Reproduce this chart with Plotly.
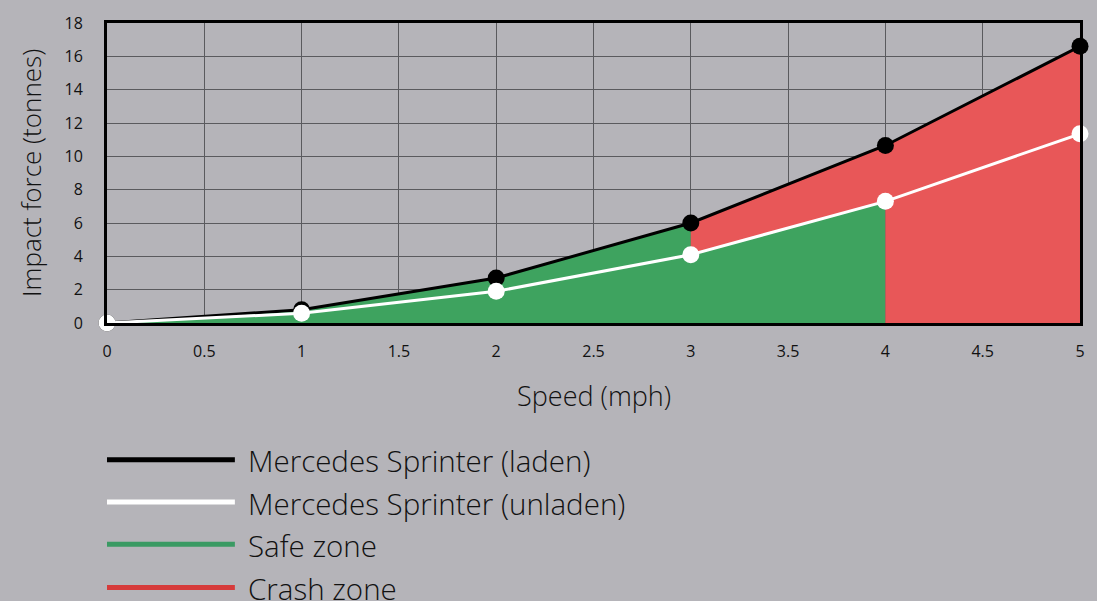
import plotly.graph_objects as go

speed = [0, 1, 2, 3, 4, 5]
laden = [0, 0.8, 2.7, 6.0, 10.65, 16.6]
unladen = [0, 0.58, 1.9, 4.1, 7.3, 11.35]
x_ticks = [0, 0.5, 1, 1.5, 2, 2.5, 3, 3.5, 4, 4.5, 5]
y_ticks = [0, 2, 4, 6, 8, 10, 12, 14, 16, 18]
legend_names = ["Mercedes Sprinter (laden)", "Mercedes Sprinter (unladen)", "Safe zone", "Crash zone"]
legend_colors = ["#000000", "#ffffff", "#3a9a63", "#d63b3b"]
x_title = "Speed (mph)"
y_title = "Impact force (tonnes)"

BG = "#b5b4b9"
GREEN = "#3ea35f"
RED = "#e85758"
FONT = "Open Sans"
TXT = "#111111"

# Safe zone: under laden up to 3 mph, under unladen from 3 to 4 mph
safe_x = speed[:4] + [speed[3], speed[4], speed[4]]
safe_y = laden[:4] + [unladen[3], unladen[4], 0]
# Crash zone: between unladen and laden 3-4, under laden 4-5
crash_x = speed[3:] + [speed[5], speed[4], speed[4], speed[3]]
crash_y = laden[3:] + [0, 0, unladen[4], unladen[3]]

fig = go.Figure()
fig.add_trace(go.Scatter(x=safe_x, y=safe_y, fill="toself", fillcolor=GREEN,
                         mode="lines", line=dict(width=0), hoverinfo="skip", showlegend=False))
fig.add_trace(go.Scatter(x=crash_x, y=crash_y, fill="toself", fillcolor=RED,
                         mode="lines", line=dict(width=0), hoverinfo="skip", showlegend=False))
fig.add_trace(go.Scatter(x=speed, y=laden, mode="lines+markers", name=legend_names[0],
                         line=dict(color="#000000", width=3),
                         marker=dict(color="#000000", size=17), showlegend=False, cliponaxis=False))
fig.add_trace(go.Scatter(x=speed, y=unladen, mode="lines+markers", name=legend_names[1],
                         line=dict(color="#ffffff", width=3),
                         marker=dict(color="#ffffff", size=17), showlegend=False, cliponaxis=False))

# Plot-area pixel box, used to convert layout pixel positions to paper coords
PL, PR, PT, PB = 107, 1081, 18, 323
def px_x(v):
    return (v - PL) / (PR - PL)
def px_y(v):
    return (PB - v) / (PB - PT)

# Custom legend with long line swatches
legend_y = [462, 505, 548, 592]
for name, col, yy in zip(legend_names, legend_colors, legend_y):
    fig.add_shape(type="line", xref="paper", yref="paper", x0=0, x1=px_x(235),
                  y0=px_y(yy), y1=px_y(yy), line=dict(color=col, width=5))
    fig.add_annotation(xref="paper", yref="paper", x=px_x(246), y=px_y(yy + 1),
                       text=name, showarrow=False, xanchor="left", yanchor="middle",
                       font=dict(family=FONT, size=29.5, color=TXT, weight=300))

# Axis titles
fig.add_annotation(xref="paper", yref="paper", x=0.5, y=px_y(397), text=x_title,
                   showarrow=False, xanchor="center", yanchor="middle",
                   font=dict(family=FONT, size=27, color=TXT, weight=300))
fig.add_annotation(xref="paper", yref="paper", x=px_x(31), y=0.5, text=y_title,
                   showarrow=False, xanchor="center", yanchor="middle", textangle=-90,
                   font=dict(family=FONT, size=26, color=TXT, weight=300))

fig.update_xaxes(range=[0, 5], tickvals=x_ticks, ticktext=[f"{v:g}" for v in x_ticks],
                 showgrid=True, gridcolor="#5a5a5e", gridwidth=1,
                 showline=True, linecolor="#000000", linewidth=3, mirror=True,
                 ticks="outside", ticklen=12, tickcolor="rgba(0,0,0,0)",
                 tickfont=dict(family=FONT, size=16, color=TXT),
                 zeroline=False, fixedrange=True)
fig.update_yaxes(range=[0, 18], tickvals=y_ticks,
                 showgrid=True, gridcolor="#5a5a5e", gridwidth=1,
                 showline=True, linecolor="#000000", linewidth=3, mirror=True,
                 ticks="outside", ticklen=18, tickcolor="rgba(0,0,0,0)",
                 tickfont=dict(family=FONT, size=16, color=TXT),
                 zeroline=False, fixedrange=True)

fig.update_layout(width=1097, height=601, paper_bgcolor=BG, plot_bgcolor=BG,
                  margin=dict(l=PL, r=1097 - PR, t=PT, b=601 - PB), showlegend=False)

fig.write_html("out.html", config={"displayModeBar": False},
               post_script="document.body.style.margin='0';document.body.style.overflow='hidden';")
